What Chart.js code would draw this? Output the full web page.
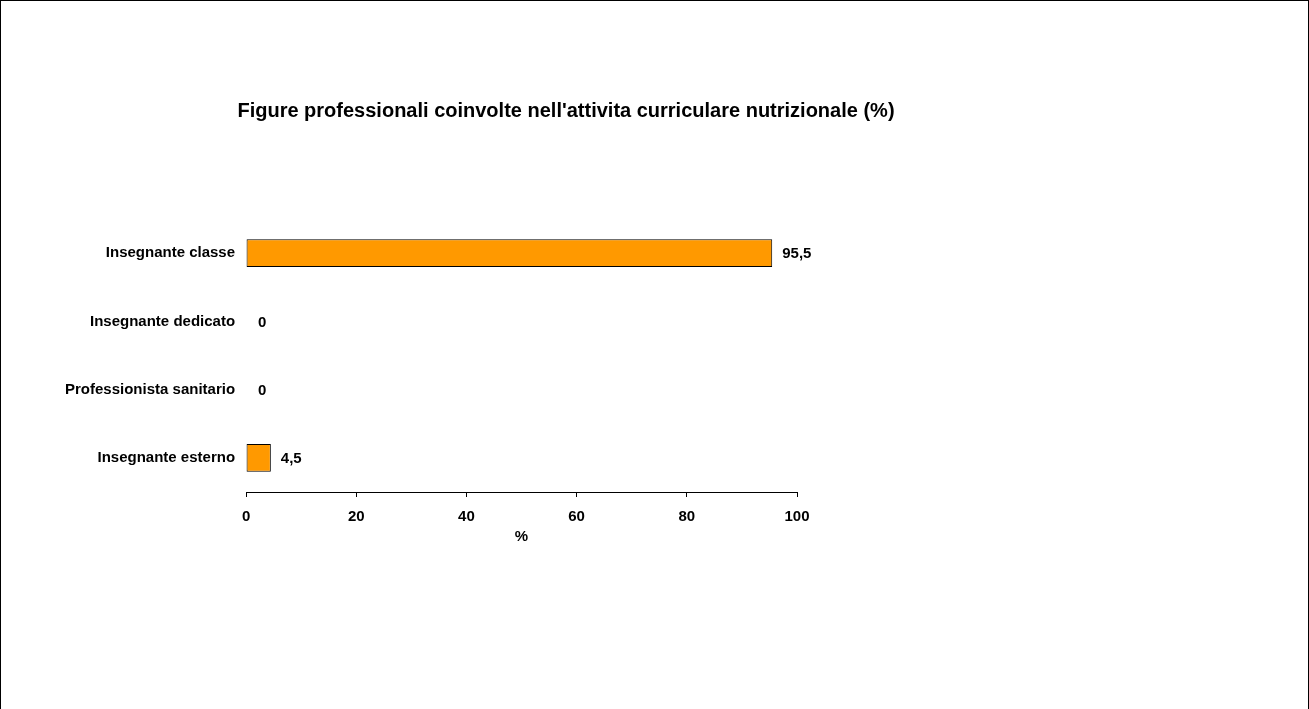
<!DOCTYPE html>
<html>
<head>
<meta charset="utf-8">
<script src="https://cdn.jsdelivr.net/npm/chart.js@4"></script>
<style>
  html, body { margin: 0; padding: 0; background: #fff; }
  #frame { position: absolute; left: 0; top: 0; width: 1307px; height: 720px; border: 1px solid #000; }
  #wrap { position: absolute; left: 0; top: 0; width: 1309px; height: 709px; }
  #title { position: absolute; left: 0; top: 99px; width: 1132px; text-align: center;
           font: bold 20px "Liberation Sans", Arial, sans-serif; color: #000; }
</style>
</head>
<body>
<div id="frame"></div>
<div id="wrap"><canvas id="chart" width="1309" height="709"></canvas></div>
<div id="title">Figure professionali coinvolte nell'attivita curriculare nutrizionale (%)</div>
<script>
const categories = ['Insegnante classe', 'Insegnante dedicato', 'Professionista sanitario', 'Insegnante esterno'];
const values = [95.5, 0, 0, 4.5];
const valueLabels = ['95,5', '0', '0', '4,5'];
const xTicks = [0, 20, 40, 60, 80, 100];

const FONT = '"Liberation Sans", Arial, sans-serif';

// draws the value next to each bar
const barValues = {
    id: 'barValues',
    afterDatasetsDraw(chart) {
        const ctx = chart.ctx;
        const meta = chart.getDatasetMeta(0);
        ctx.save();
        ctx.font = 'bold 15px ' + FONT;
        ctx.fillStyle = '#000';
        ctx.textAlign = 'left';
        ctx.textBaseline = 'middle';
        meta.data.forEach((bar, i) => {
            let pad = values[i] === 0 ? 12 : 10;
            ctx.fillText(valueLabels[i], bar.x + pad, bar.y + 1);
        });
        ctx.restore();
    }
};

let ctx = document.getElementById('chart').getContext('2d');
let chart = new Chart(ctx, {
    type: 'bar',
    data: {
        labels: categories,
        datasets: [{
            data: values,
            backgroundColor: '#FF9900',
            borderColor: '#000',
            borderWidth: 1,
            borderSkipped: false,
            barPercentage: 0.41,
            categoryPercentage: 1.0
        }]
    },
    options: {
        indexAxis: 'y',
        responsive: false,
        animation: false,
        layout: { padding: { left: 62, right: 512, top: 219, bottom: 163 } },
        plugins: { legend: { display: false }, tooltip: { enabled: false } },
        scales: {
            x: {
                min: 0,
                max: 100,
                afterBuildTicks: (axis) => { axis.ticks = xTicks.map(v => ({ value: v })); },
                border: { display: true, color: '#000', width: 1 },
                grid: { display: true, drawOnChartArea: false, color: '#000', tickLength: 5 },
                ticks: { color: '#000', padding: 11, font: { family: FONT, size: 15, weight: 'bold' } },
                title: { display: true, text: '%', color: '#000', padding: { top: -9, bottom: 0 },
                         font: { family: FONT, size: 15, weight: 'bold' } }
            },
            y: {
                border: { display: false },
                grid: { display: false },
                ticks: { color: '#000', padding: 3, font: { family: FONT, size: 15, weight: 'bold' } }
            }
        }
    },
    plugins: [barValues]
});
</script>
</body>
</html>
